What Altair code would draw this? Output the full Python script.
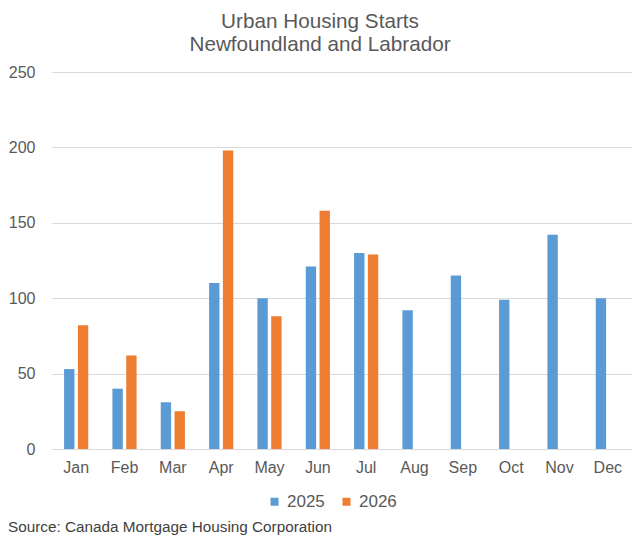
import altair as alt
import pandas as pd

months = ["Jan", "Feb", "Mar", "Apr", "May", "Jun", "Jul", "Aug", "Sep", "Oct", "Nov", "Dec"]
years = ["2025", "2026"]
starts_2025 = [53, 40, 31, 110, 100, 121, 130, 92, 115, 99, 142, 100]
starts_2026 = [82, 62, 25, 198, 88, 158, 129, None, None, None, None, None]
y_ticks = [0, 50, 100, 150, 200, 250]
title_lines = ["Urban Housing Starts", "Newfoundland and Labrador"]
source_text = "Source: Canada Mortgage Housing Corporation"

rows = []
for m, a, b in zip(months, starts_2025, starts_2026):
    rows.append({"month": m, "year": "2025", "value": a})
    if b is not None:
        rows.append({"month": m, "year": "2026", "value": b})
df = pd.DataFrame(rows)

FONT = "Liberation Sans"
GRAY = "#595959"

bars = alt.Chart(df).mark_bar().encode(
    x=alt.X(
        "month:N",
        sort=months,
        scale=alt.Scale(domain=months, paddingInner=0.5, paddingOuter=0.25),
        axis=alt.Axis(title=None, labelAngle=0, ticks=False, domain=False,
                      labelFontSize=16, labelColor=GRAY, labelFont=FONT, labelPadding=10),
    ),
    xOffset=alt.XOffset("year:N", scale=alt.Scale(domain=years, paddingInner=0.25)),
    y=alt.Y(
        "value:Q",
        scale=alt.Scale(domain=[0, 250]),
        axis=alt.Axis(title=None, values=y_ticks, ticks=False, domain=False,
                      gridColor="#d9d9d9", gridWidth=1,
                      labelFontSize=16, labelColor=GRAY, labelFont=FONT, labelPadding=17),
    ),
    color=alt.Color(
        "year:N",
        scale=alt.Scale(domain=years, range=["#5B9BD5", "#ED7D31"]),
        legend=alt.Legend(title=None, orient="none", legendX=214, legendY=421,
                          direction="horizontal", symbolType="square", symbolSize=64,
                          symbolStrokeWidth=0, labelFontSize=17, labelColor=GRAY,
                          labelFont=FONT, columnPadding=13, labelOffset=4),
    ),
)

source = alt.Chart(pd.DataFrame({"t": [source_text]})).mark_text(
    align="left", baseline="alphabetic", fontSize=15.3, font=FONT, color="#404040"
).encode(x=alt.value(-44), y=alt.value(460), text="t:N")

chart = alt.layer(bars, source).properties(
    width=580,
    height=377,
    title=alt.TitleParams(text=title_lines, fontSize=20.7, font=FONT, color=GRAY,
                          fontWeight="normal", anchor="middle", dx=-22, lineHeight=23,
                          offset=8),
    autosize=alt.AutoSizeParams(type="none"),
    padding={"left": 44, "top": 64, "right": 0, "bottom": 87},
).configure_view(stroke=None)

chart.save("out.html", embed_options={"renderer": "svg", "actions": False})
